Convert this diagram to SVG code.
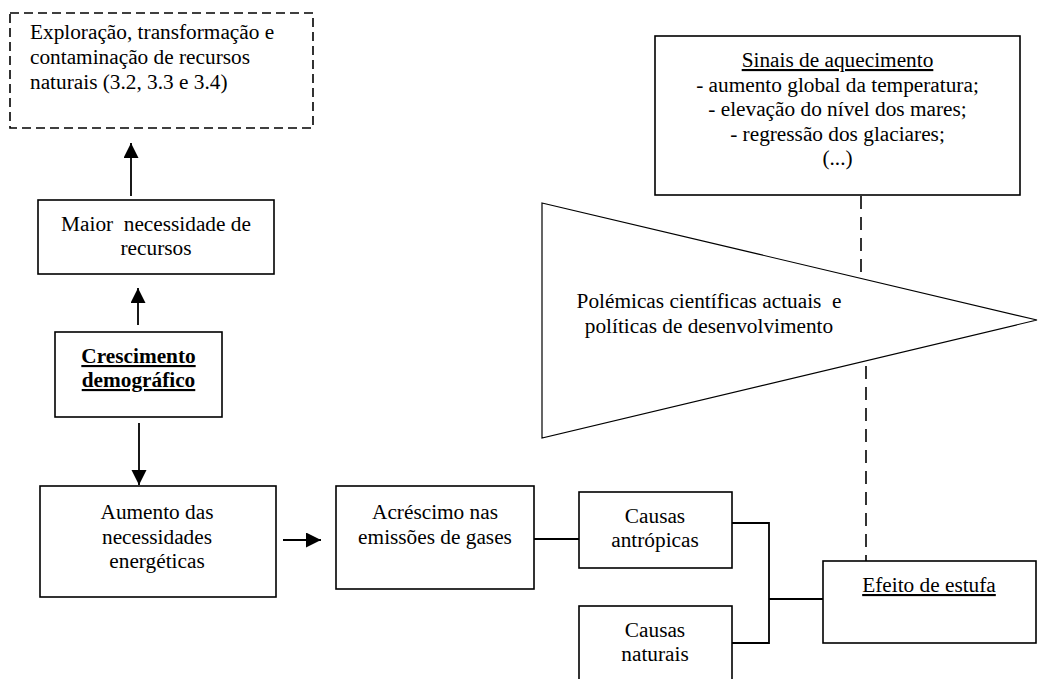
<svg xmlns="http://www.w3.org/2000/svg" width="1038" height="679" viewBox="0 0 1038 679">
<defs>
<style>
.box{fill:#fff;stroke:#000;stroke-width:1.6}
.dbox{fill:#fff;stroke:#000;stroke-width:1.6;stroke-dasharray:9 5}
.tri{fill:#fff;stroke:#000;stroke-width:1.2}
text{font-family:"Liberation Serif","Times New Roman",serif;font-size:21.3px;fill:#000}
.c{text-anchor:middle}
.b{font-weight:bold;text-decoration:underline}
.u{text-decoration:underline}
.ln{stroke:#000;stroke-width:1.8;fill:none}
.dl{stroke:#000;stroke-width:1.6;fill:none;stroke-dasharray:13 8}
</style>
<marker id="ah" markerUnits="userSpaceOnUse" markerWidth="16" markerHeight="16" refX="15" refY="7.5" orient="auto">
<path d="M0,0 L15,7.5 L0,15 z" fill="#000"/>
</marker>
</defs>
<rect width="1038" height="679" fill="#fff"/>

<g id="exploracao">
<rect class="dbox" x="10" y="13" width="303" height="115"/>
<text x="30" y="39">Exploração, transformação e</text>
<text x="30" y="64">contaminação de recursos</text>
<text x="30" y="89">naturais (3.2, 3.3 e 3.4)</text>
</g>

<g id="maior">
<rect class="box" x="38" y="200" width="236" height="74"/>
<text class="c" x="156" y="231" xml:space="preserve">Maior  necessidade de</text>
<text class="c" x="156" y="255">recursos</text>
</g>

<g id="crescimento">
<rect class="box" x="55" y="332" width="167" height="85"/>
<text class="c b" x="138.5" y="363">Crescimento</text>
<text class="c b" x="138.5" y="387">demográfico</text>
</g>

<g id="aumento">
<rect class="box" x="40" y="486" width="236" height="111"/>
<text class="c" x="157" y="519">Aumento das</text>
<text class="c" x="157" y="544">necessidades</text>
<text class="c" x="157" y="568">energéticas</text>
</g>

<g id="acrescimo">
<rect class="box" x="336" y="486" width="198" height="103"/>
<text class="c" x="435" y="519">Acréscimo nas</text>
<text class="c" x="435" y="544">emissões de gases</text>
</g>

<g id="antropicas">
<rect class="box" x="579" y="492" width="153" height="76"/>
<text class="c" x="655" y="523">Causas</text>
<text class="c" x="655" y="547">antrópicas</text>
</g>

<g id="naturais">
<rect class="box" x="579" y="606" width="153" height="90"/>
<text class="c" x="655" y="637">Causas</text>
<text class="c" x="655" y="661">naturais</text>
</g>

<g id="efeito">
<rect class="box" x="823" y="561" width="213" height="82"/>
<text class="c u" x="929" y="592">Efeito de estufa</text>
</g>

<g id="sinais">
<rect class="box" x="655" y="36" width="365" height="159"/>
<text class="c u" x="837.5" y="67">Sinais de aquecimento</text>
<text class="c" x="837.5" y="91.5">- aumento global da temperatura;</text>
<text class="c" x="837.5" y="116">- elevação do nível dos mares;</text>
<text class="c" x="837.5" y="140.5">- regressão dos glaciares;</text>
<text class="c" x="837.5" y="165">(...)</text>
</g>

<g id="polemicas">
<polygon class="tri" points="542,203 1037,320 542,438"/>
<text class="c" x="709" y="308" xml:space="preserve">Polémicas científicas actuais  e</text>
<text class="c" x="709" y="333">políticas de desenvolvimento</text>
</g>

<g id="connectors">
<line class="ln" x1="131" y1="196" x2="131" y2="143" marker-end="url(#ah)"/>
<line class="ln" x1="138" y1="325" x2="138" y2="288" marker-end="url(#ah)"/>
<line class="ln" x1="139" y1="423" x2="139" y2="485" marker-end="url(#ah)"/>
<line class="ln" x1="283" y1="540" x2="321" y2="540" marker-end="url(#ah)"/>
<line class="ln" x1="534" y1="539" x2="579" y2="539"/>
<polyline class="ln" points="732,523 769,523 769,643 732,643"/>
<line class="ln" x1="769" y1="599" x2="823" y2="599"/>
<line class="dl" x1="861" y1="196" x2="861" y2="278"/>
<line class="dl" x1="866" y1="366" x2="866" y2="561"/>
</g>
</svg>
